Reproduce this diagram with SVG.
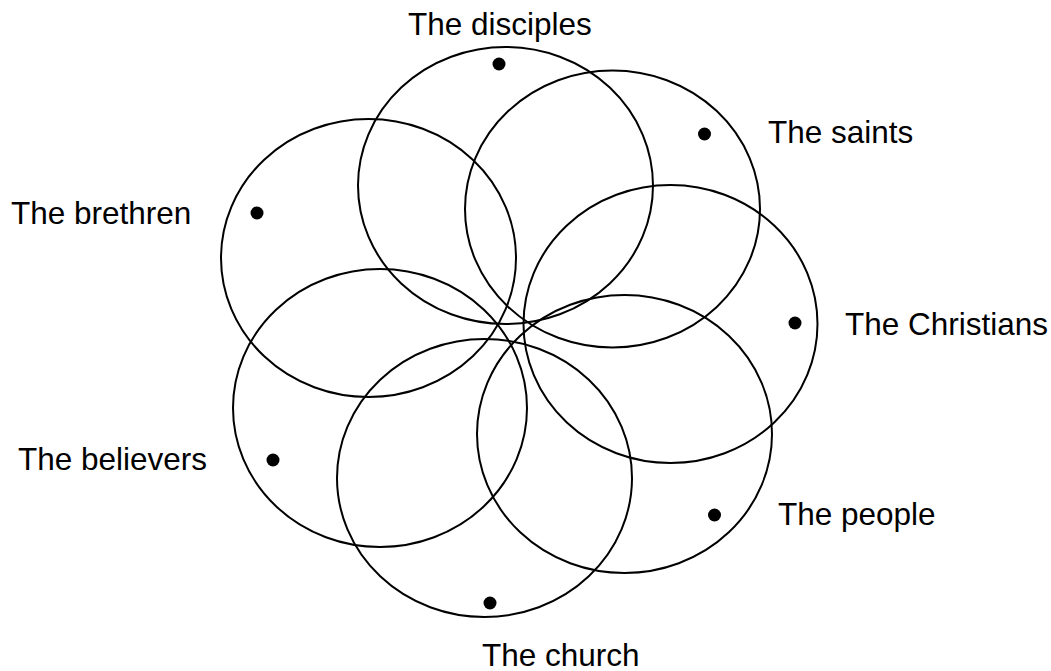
<svg xmlns="http://www.w3.org/2000/svg" width="1051" height="671" viewBox="0 0 1051 671">
<style>
.c{fill:none;stroke:#000;stroke-width:2}
.d{fill:#000}
.t{font-family:"Liberation Sans",Arial,sans-serif;font-size:31.5px;fill:#000}
</style>
<rect width="1051" height="671" fill="#fff"/>
<g id="disciples"><ellipse class="c" cx="505.5" cy="185.5" rx="147.5" ry="138.5"/><circle class="d" cx="499" cy="64" r="6.5"/><text class="t" x="408" y="35">The disciples</text></g>
<g id="saints"><ellipse class="c" cx="612.5" cy="209" rx="147.5" ry="138.5"/><circle class="d" cx="704.5" cy="134" r="6.5"/><text class="t" x="768" y="143">The saints</text></g>
<g id="brethren"><ellipse class="c" cx="368.5" cy="258" rx="147.5" ry="139"/><circle class="d" cx="257" cy="213" r="6.5"/><text class="t" x="11" y="224">The brethren</text></g>
<g id="christians"><ellipse class="c" cx="670.5" cy="324" rx="147" ry="139"/><circle class="d" cx="795" cy="323" r="6.5"/><text class="t" x="845" y="335">The Christians</text></g>
<g id="believers"><ellipse class="c" cx="380" cy="408" rx="147" ry="139"/><circle class="d" cx="273" cy="460" r="6.5"/><text class="t" x="18" y="470">The believers</text></g>
<g id="people"><ellipse class="c" cx="624.5" cy="434" rx="147.5" ry="139"/><circle class="d" cx="714.5" cy="515" r="6.5"/><text class="t" x="778" y="525">The people</text></g>
<g id="church"><ellipse class="c" cx="484.5" cy="478" rx="147.5" ry="139"/><circle class="d" cx="490" cy="603" r="6.5"/><text class="t" x="482" y="666">The church</text></g>
<g id="connectors"></g>
</svg>
